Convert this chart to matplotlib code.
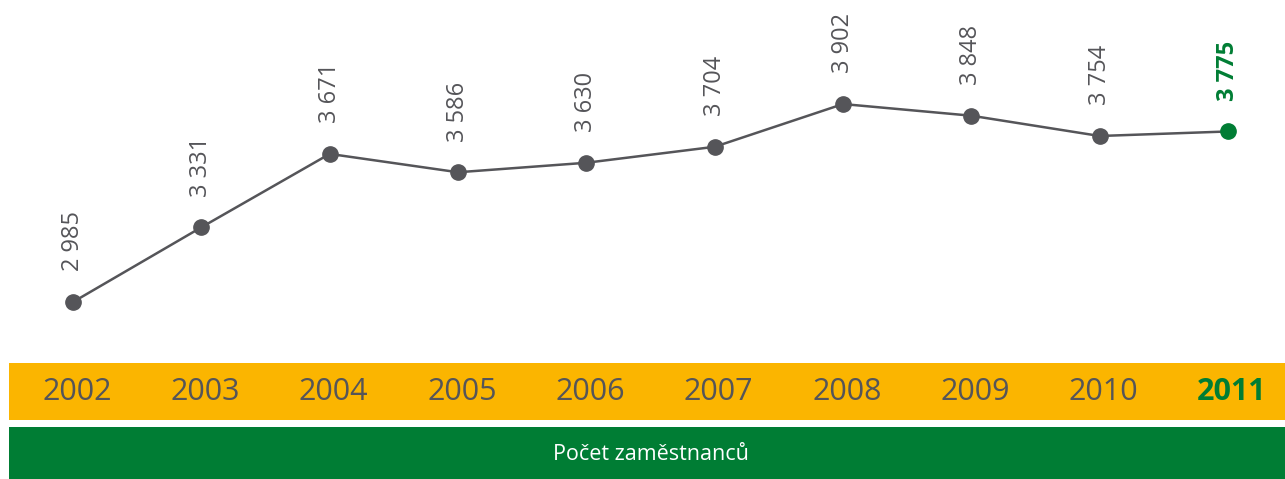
import matplotlib.pyplot as plt
from matplotlib.transforms import blended_transform_factory

plt.rcParams['font.family'] = ['Open Sans', 'DejaVu Sans']

years = ['2002', '2003', '2004', '2005', '2006', '2007', '2008', '2009', '2010', '2011']
staff = [2985, 3331, 3671, 3586, 3630, 3704, 3902, 3848, 3754, 3775]
labels = ['2 985', '3 331', '3 671', '3 586', '3 630', '3 704', '3 902', '3 848', '3 754', '3 775']
caption = 'Počet zaměstnanců'

gray = '#555559'
green = '#007d34'
yellow = '#fbb500'

W, H = 1285, 479
fig = plt.figure(figsize=(W / 100, H / 100), dpi=100)

# bands
yb = fig.add_axes([9 / W, (H - 420) / H, 1276 / W, 57 / H])
yb.set_facecolor(yellow)
yb.set_xticks([]); yb.set_yticks([])
for s in yb.spines.values():
    s.set_visible(False)
gb = fig.add_axes([9 / W, 0, 1276 / W, 52 / H])
gb.set_facecolor(green)
gb.set_xticks([]); gb.set_yticks([])
for s in gb.spines.values():
    s.set_visible(False)
fig.text(651 / W, (H - 455) / H, caption, color='white', fontsize=15.5,
         ha='center', va='center')

ax = fig.add_axes([0, 0, 1, 1])
ax.patch.set_alpha(0)
ax.axis('off')
x = list(range(len(years)))
ax.set_xlim(-0.569, 9.444)
ax.set_ylim(2165, 4384)
ax.plot(x, staff, color=gray, lw=1.8, zorder=2)
for i, v in enumerate(staff):
    last = i == len(staff) - 1
    c = green if last else gray
    ax.plot(i, v, 'o', color=c, ms=11, zorder=3)
    ax.annotate(labels[i], (i, v), xytext=(0, 22), textcoords='offset points',
                rotation=90, ha='center', va='bottom', fontsize=17, color=c,
                fontweight='bold' if last else 'normal')

tr = blended_transform_factory(ax.transData, fig.transFigure)
for i, yr in enumerate(years):
    last = i == len(years) - 1
    ax.text(i + 0.03, (H - 392) / H, yr, transform=tr, ha='center', va='center',
            fontsize=22, color=green if last else gray,
            fontweight='bold' if last else 'normal')

fig.savefig('out.png', dpi=100)
